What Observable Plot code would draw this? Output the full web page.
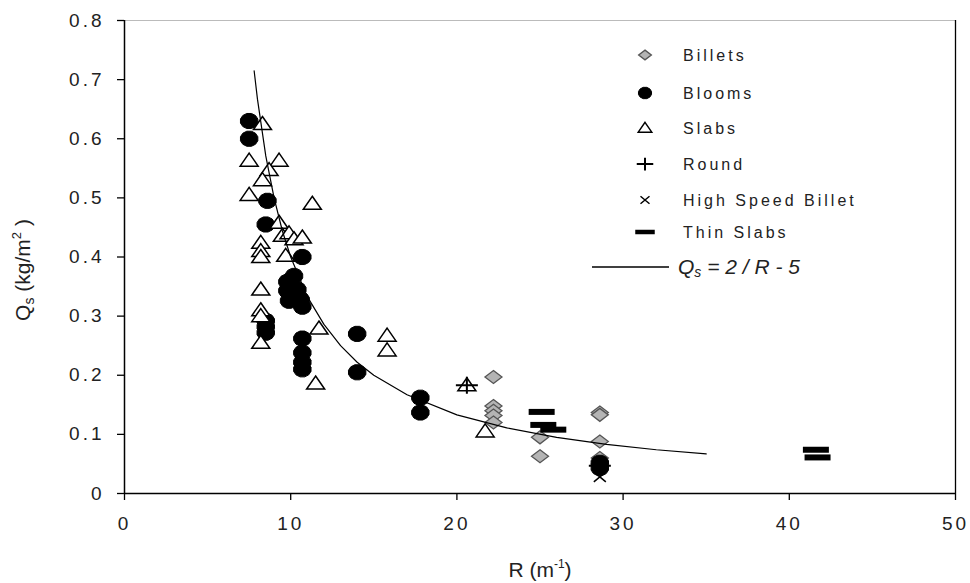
<!DOCTYPE html>
<html><head><meta charset="utf-8">
<script src="https://cdn.jsdelivr.net/npm/d3@7"></script>
<script src="https://cdn.jsdelivr.net/npm/@observablehq/plot@0.6"></script>
<style>
body{margin:0;background:#fff;}
#chart{position:relative;width:970px;height:583px;}
svg text{font-family:"Liberation Sans",Arial,sans-serif;}
.tk text{letter-spacing:3px;font-size:19px;}
</style></head><body><div id="chart"></div>
<script>
// ---- data ----
const billets = [[22.2,0.197],[22.2,0.148],[22.2,0.14],[22.2,0.132],[22.2,0.12],[25,0.095],[25,0.063],[28.6,0.137],[28.6,0.133],[28.6,0.088],[28.6,0.06],[28.6,0.05]];
const blooms = [[7.5,0.63],[7.5,0.6],[8.6,0.495],[8.5,0.455],[10.7,0.40],[10.2,0.368],[9.8,0.358],[9.8,0.343],[10.4,0.345],[10.3,0.333],[10.6,0.328],[10.7,0.316],[9.9,0.326],[8.5,0.292],[8.5,0.282],[8.5,0.272],[10.7,0.262],[10.7,0.238],[10.7,0.222],[10.7,0.21],[14,0.27],[14,0.205],[17.8,0.162],[17.8,0.137],[28.6,0.052],[28.6,0.043]];
const slabs = [[8.3,0.625],[7.5,0.563],[9.3,0.563],[8.7,0.547],[8.3,0.53],[7.5,0.505],[11.3,0.49],[9.3,0.458],[9.5,0.436],[9.9,0.44],[10.2,0.43],[10.7,0.433],[8.2,0.424],[8.2,0.41],[9.7,0.402],[8.2,0.4],[8.2,0.345],[8.2,0.31],[8.2,0.3],[8.2,0.255],[11.7,0.279],[11.5,0.186],[15.8,0.267],[15.8,0.242],[20.6,0.183],[21.7,0.105]];
const round = [[20.6,0.183],[28.6,0.047]];
const highSpeedBillet = [[28.6,0.045],[28.6,0.028]];
const thinSlabs = [[25.1,0.138],[25.2,0.116],[25.8,0.108],[41.6,0.074],[41.7,0.061]];
// fitted curve Qs = 2/(R-5)
const curve = [[7.8,0.715],[8,0.667],[8.5,0.571],[9,0.5],[9.5,0.444],[10,0.4],[11,0.333],[12,0.286],[13,0.25],[14,0.222],[15,0.2],[17,0.167],[20,0.133],[23,0.111],[26,0.095],[29,0.083],[32,0.074],[35,0.067]];
const rTicks = [0,10,20,30,40,50];
const qTicks = [0,0.1,0.2,0.3,0.4,0.5,0.6,0.7,0.8];
const seriesNames = ["Billets","Blooms","Slabs","Round","High Speed Billet","Thin Slabs"];

// ---- symbols ----
function mk(f){return {draw(ctx){f(ctx);}};}
const diamondF = s => ctx => {ctx.moveTo(0,-6.5*s);ctx.lineTo(8.5*s,0);ctx.lineTo(0,6.5*s);ctx.lineTo(-8.5*s,0);ctx.closePath();};
const bloomF = s => ctx => {const n=12;for(let i=0;i<n;i++){const a=2*Math.PI*(i+0.5)/n;const x=Math.cos(a)*9*s,y=Math.sin(a)*7.8*s;i?ctx.lineTo(x,y):ctx.moveTo(x,y);}ctx.closePath();};
const triF = s => ctx => {ctx.moveTo(0,-7.5*s);ctx.lineTo(9*s,5.5*s);ctx.lineTo(-9*s,5.5*s);ctx.closePath();};
const plusF = s => ctx => {ctx.moveTo(-11*s,0);ctx.lineTo(11*s,0);ctx.moveTo(0,-8.5*s);ctx.lineTo(0,8.5*s);};
const timesF = s => ctx => {ctx.moveTo(-6*s,-5*s);ctx.lineTo(6*s,5*s);ctx.moveTo(-6*s,5*s);ctx.lineTo(6*s,-5*s);};
const dashF = s => ctx => {ctx.rect(-13*s,-3*s,26*s,6*s);};

const styles = [
  {f:diamondF, fill:"#b4b4b4", stroke:"#555", sw:1.3},
  {f:bloomF, fill:"black", stroke:"black", sw:1},
  {f:triF, fill:"white", stroke:"black", sw:1.5},
  {f:plusF, fill:"none", stroke:"black", sw:2},
  {f:timesF, fill:"none", stroke:"black", sw:1.5},
  {f:dashF, fill:"black", stroke:"none", sw:0}
];
const allData = [billets, blooms, slabs, round, highSpeedBillet, thinSlabs];

const dotMarks = allData.map((d,i)=>Plot.dot(d,{x:d=>d[0],y:d=>d[1],symbol:mk(styles[i].f(1)),fill:styles[i].fill,stroke:styles[i].stroke,strokeWidth:styles[i].sw}));

const chart = Plot.plot({
  width:970, height:583,
  marginTop:20, marginRight:15, marginBottom:90, marginLeft:124,
  style:{background:"white", overflow:"visible"},
  x:{domain:[0,50]},
  y:{domain:[0,0.8]},
  marks:[
    ...dotMarks,
    Plot.line(curve,{x:d=>d[0],y:d=>d[1],stroke:"black",strokeWidth:1.2}),
    Plot.ruleY([0.8],{stroke:"#bbb",strokeWidth:1}),
    Plot.ruleX([50],{stroke:"black",strokeWidth:1.3}),
    Plot.ruleX([0],{stroke:"black",strokeWidth:1.5}),
    Plot.ruleY([0],{stroke:"black",strokeWidth:1.5}),
    Plot.axisX({ticks:rTicks, tickSize:7, tickPadding:16, fontSize:19, label:null, className:"tk", stroke:"black", strokeWidth:1.3, color:"#222"}),
    Plot.axisY({ticks:qTicks, tickSize:7, tickPadding:13, fontSize:19, label:null, className:"tk", tickFormat:d=>d===0?"0":d.toFixed(1), stroke:"black", strokeWidth:1.3, color:"#222"})
  ]
});
document.getElementById("chart").appendChild(chart);

const svg = d3.select(chart);
// axis titles
const yl = svg.append("text").attr("transform","translate(30,270) rotate(-90)").attr("text-anchor","middle").attr("font-size",21).attr("fill","#222");
yl.append("tspan").text("Q");
yl.append("tspan").text("s").attr("font-size",14).attr("dy",4);
yl.append("tspan").text(" (kg/m").attr("dy",-4);
yl.append("tspan").text("2").attr("font-size",13).attr("dy",-9);
yl.append("tspan").text(" )").attr("dy",9);

const xl = svg.append("text").attr("x",540).attr("y",577).attr("text-anchor","middle").attr("font-size",21).attr("fill","#222");
xl.append("tspan").text("R (m");
xl.append("tspan").text("-1").attr("font-size",12).attr("dy",-9);
xl.append("tspan").text(")").attr("dy",9);

// legend
const lg = svg.append("g").attr("text-anchor","start");
const rowsY = [55,93,128,164,200,232];
seriesNames.forEach((name,i)=>{
  const st = styles[i];
  const p = d3.path(); st.f(0.75)(p);
  lg.append("path").attr("d",p.toString()).attr("transform",`translate(645,${rowsY[i]})`)
    .attr("fill",st.fill).attr("stroke",st.stroke).attr("stroke-width",st.sw);
  lg.append("text").attr("x",683).attr("y",rowsY[i]+6).attr("text-anchor","start").attr("font-size",16).attr("letter-spacing","3px").attr("fill","#222").text(name);
});
lg.append("line").attr("x1",592).attr("x2",669).attr("y1",267).attr("y2",267).attr("stroke","black").attr("stroke-width",1.3);
const eq = lg.append("text").attr("x",678).attr("y",274).attr("text-anchor","start").attr("font-size",21).attr("font-style","italic").attr("fill","#222");
eq.append("tspan").text("Q");
eq.append("tspan").text("s").attr("font-size",14).attr("dy",3);
eq.append("tspan").text(" = 2 / R - 5").attr("dy",-3);
</script></body></html>
